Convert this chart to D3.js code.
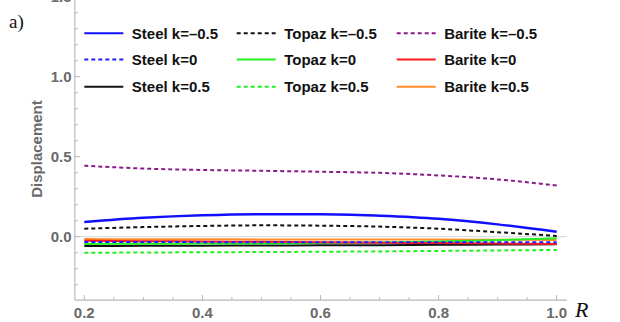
<!DOCTYPE html>
<html><head><meta charset="utf-8">
<script src="https://cdn.jsdelivr.net/npm/d3@7"></script>
<style>body{margin:0;background:#fff}svg{display:block}</style>
</head><body><svg id="c" width="620" height="322"></svg>
<script>
const R = [0.2, 0.3, 0.4, 0.5, 0.6, 0.7, 0.8, 0.9, 1.0];
const steelNeg = [0.092, 0.118, 0.134, 0.141, 0.141, 0.131, 0.112, 0.077, 0.031];
const steelZero = [-0.033, -0.033, -0.034, -0.034, -0.034, -0.035, -0.035, -0.035, -0.035];
const steelPos = [-0.058, -0.057, -0.056, -0.055, -0.054, -0.053, -0.051, -0.049, -0.047];
const topazNeg = [0.050, 0.060, 0.067, 0.071, 0.069, 0.063, 0.050, 0.028, 0.005];
const topazZero = [-0.045, -0.044, -0.043, -0.042, -0.040, -0.036, -0.030, -0.021, -0.010];
const topazPos = [-0.100, -0.099, -0.097, -0.096, -0.094, -0.092, -0.089, -0.086, -0.083];
const bariteNeg = [0.444, 0.426, 0.417, 0.412, 0.406, 0.399, 0.383, 0.358, 0.320];
const bariteZero = [-0.026, -0.028, -0.030, -0.032, -0.035, -0.038, -0.040, -0.043, -0.045];
const baritePos = [-0.015, -0.016, -0.016, -0.017, -0.017, -0.018, -0.018, -0.019, -0.020];
const xTicks = [0.2, 0.4, 0.6, 0.8, 1.0];
const yTicks = [0.0, 0.5, 1.0, 1.5];

const series = [
  {name: "Steel k=\u20130.5", v: steelNeg, c: "#1010ff", dash: null, w: 2.5},
  {name: "Steel k=0", v: steelZero, c: "#2020ff", dash: "4,3", w: 2},
  {name: "Steel k=0.5", v: steelPos, c: "#111", dash: null, w: 2},
  {name: "Topaz k=\u20130.5", v: topazNeg, c: "#111", dash: "4,3", w: 2},
  {name: "Topaz k=0", v: topazZero, c: "#22ee22", dash: null, w: 2},
  {name: "Topaz k=0.5", v: topazPos, c: "#22ee22", dash: "4,3", w: 2},
  {name: "Barite k=\u20130.5", v: bariteNeg, c: "#8a1a8a", dash: "4,3", w: 2},
  {name: "Barite k=0", v: bariteZero, c: "#ff1a1a", dash: null, w: 2},
  {name: "Barite k=0.5", v: baritePos, c: "#ff8a26", dash: null, w: 2}
];
const drawOrder = [6, 0, 3, 5, 8, 2, 4, 7, 1];

const svg = d3.select("#c");
const x = d3.scaleLinear().domain([0.2, 1.0]).range([84.3, 556.7]);
const y = d3.scaleLinear().domain([0, 1]).range([236.7, 76.7]);
const xMin = 0.184, xMax = 1.017, yMin = -0.396, yMax = 1.6;

const axCol = "#b8b8b8", lblCol = "#6a6a6a";
// zero gridline
svg.append("line").attr("x1", x(xMin)).attr("x2", x(xMax)).attr("y1", y(0)).attr("y2", y(0))
  .attr("stroke", "#d4d4d4").attr("stroke-width", 1);

// axes lines
svg.append("line").attr("x1", x(xMin)).attr("x2", x(xMax)).attr("y1", y(yMin)).attr("y2", y(yMin))
  .attr("stroke", axCol).attr("stroke-width", 1.2);
svg.append("line").attr("x1", x(xMin)).attr("x2", x(xMin)).attr("y1", y(yMin)).attr("y2", y(yMax))
  .attr("stroke", axCol).attr("stroke-width", 1.2);

// x ticks
const xMinor = d3.range(0.2, 1.0001, 0.05);
xMinor.forEach(t => {
  const major = xTicks.some(m => Math.abs(m - t) < 1e-6);
  svg.append("line").attr("x1", x(t)).attr("x2", x(t)).attr("y1", y(yMin)).attr("y2", y(yMin) - (major ? 5 : 3))
    .attr("stroke", axCol).attr("stroke-width", 1);
});
svg.append("g").selectAll("text").data(xTicks).join("text")
  .attr("x", d => x(d)).attr("y", 318).attr("text-anchor", "middle")
  .attr("font-family", "Liberation Sans, Arial, sans-serif").attr("font-weight", "bold").attr("font-size", 15)
  .attr("fill", lblCol).text(d => d3.format(".1f")(d));

// y ticks
const yMinorT = d3.range(-0.3, 1.5001, 0.1);
yMinorT.forEach(t => {
  const major = yTicks.some(m => Math.abs(m - t) < 1e-6);
  svg.append("line").attr("x1", x(xMin)).attr("x2", x(xMin) + (major ? 5 : 3)).attr("y1", y(t)).attr("y2", y(t))
    .attr("stroke", axCol).attr("stroke-width", 1);
});
svg.append("g").selectAll("text").data(yTicks).join("text")
  .attr("x", 71.5).attr("y", d => y(d) + 5.5).attr("text-anchor", "end")
  .attr("font-family", "Liberation Sans, Arial, sans-serif").attr("font-weight", "bold").attr("font-size", 15)
  .attr("fill", lblCol).text(d => d3.format(".1f")(d));

// y title
svg.append("text").attr("transform", "translate(42,149) rotate(-90)").attr("text-anchor", "middle")
  .attr("font-family", "Liberation Sans, Arial, sans-serif").attr("font-weight", "bold").attr("font-size", 15)
  .attr("fill", lblCol).text("Displacement");

// R label
svg.append("text").attr("x", 575).attr("y", 316.5)
  .attr("font-family", "Liberation Serif, Times New Roman, serif").attr("font-style", "italic").attr("font-size", 22)
  .attr("fill", "#111").text("R");

// a)
svg.append("text").attr("x", 9).attr("y", 27.5)
  .attr("font-family", "Liberation Serif, Times New Roman, serif").attr("font-size", 19)
  .attr("fill", "#111").text("a)");

// lines
const line = d3.line().x((d, i) => x(R[i])).y(d => y(d)).curve(d3.curveMonotoneX);
drawOrder.forEach(k => {
  const s = series[k];
  svg.append("path").datum(s.v).attr("d", line).attr("fill", "none")
    .attr("stroke", s.c).attr("stroke-width", s.w)
    .attr("stroke-dasharray", s.dash);
});

// legend
const colX = [84.3, 236.7, 396.7], rowY = [33.3, 59.5, 86.7];
series.forEach((s, i) => {
  const cx = colX[Math.floor(i / 3)], cy = rowY[i % 3];
  svg.append("line").attr("x1", cx).attr("x2", cx + 39).attr("y1", cy).attr("y2", cy)
    .attr("stroke", s.c).attr("stroke-width", 2).attr("stroke-dasharray", s.dash);
  svg.append("text").attr("x", cx + 47.5).attr("y", cy + 5.3)
    .attr("font-family", "Liberation Sans, Arial, sans-serif").attr("font-weight", "bold").attr("font-size", 15)
    .attr("fill", "#111").text(s.name);
});
</script></body></html>
